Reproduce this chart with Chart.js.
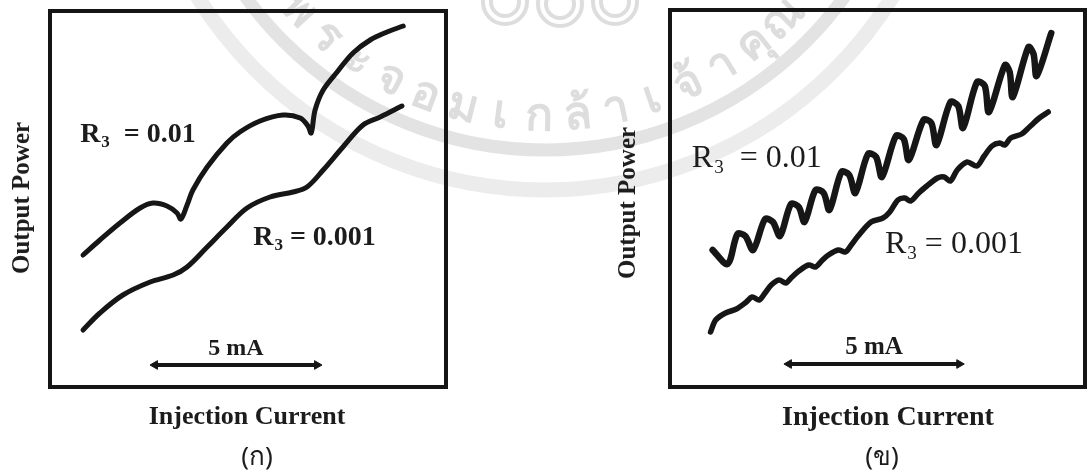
<!DOCTYPE html>
<html>
<head>
<meta charset="utf-8">
<script src="https://cdn.jsdelivr.net/npm/chart.js@4.4.1/dist/chart.umd.min.js"></script>
<style>
  body { margin:0; background:#fff; width:1091px; height:475px; position:relative; overflow:hidden; font-family:"Liberation Serif", serif; }
  canvas { position:absolute; top:0; }
  .t { position:absolute; font-weight:bold; color:#1c1c1c; white-space:nowrap; transform:translate(-50%,-50%); }
  .v { transform:translate(-50%,-50%) rotate(-90deg); }
  .cap { font-family:"Noto Sans", "DejaVu Sans", sans-serif; font-weight:normal; font-size:26px; }
</style>
</head>
<body>
<canvas id="wm" width="1091" height="475" style="left:0"></canvas>
<canvas id="left" width="460" height="400" style="left:0"></canvas>
<canvas id="right" width="491" height="400" style="left:600px"></canvas>

<div class="t v" style="left:21px; top:198px; font-size:25px">Output Power</div>
<div class="t" style="left:247px; top:416px; font-size:26px">Injection Current</div>
<div class="t cap" style="left:257px; top:455px">(ก)</div>

<div class="t v" style="left:627px; top:203px; font-size:25px">Output Power</div>
<div class="t" style="left:888px; top:416px; font-size:28px">Injection Current</div>
<div class="t cap" style="left:882px; top:455px">(ข)</div>

<script>
// injection current in mA, output power in arbitrary units
// (ก) smooth curves
const lowFbHighX = [1.02,1.54,2.16,2.78,3.18,3.61,3.92,4.04,4.23,4.41,4.85,5.46,5.86,6.48,7.19,7.72,7.96,8.06,8.18,8.43,8.86,9.35,9.88,10.40,10.90];
const lowFbHighY = [132,147,164,179,184,181,174,168,182,197,220,244,255,266,272,269,261,254,277,297,315,334,347,355,361];
const lowFbLowX = [1.02,1.54,2.25,3.09,3.80,4.23,4.85,5.46,6.08,6.79,7.50,7.93,8.43,9.04,9.66,10.19,10.86];
const lowFbLowY = [57,74,92,105,112,120,140,160,179,190,195,200,217,240,262,270,281];

// (ข) rippled curves
const ripHighX = [1.25,1.69,1.98,2.21,2.44,2.79,3.02,3.23,3.55,3.78,3.95,4.27,4.51,4.68,5.03,5.26,5.44,5.81,6.05,6.22,6.63,6.86,7.01,7.44,7.67,7.82,8.23,8.46,8.60,9.01,9.24,9.36,9.83,9.97,10.06,10.52,10.67,10.76,11.19];
const ripHighY = [137,123,153,151,137,168,165,151,183,180,165,197,194,177,215,212,194,233,230,210,251,248,227,267,264,242,285,281,259,305,301,275,322,315,290,340,333,311,354];
const ripLowX = [1.19,1.34,1.63,1.95,2.24,2.41,2.62,2.79,2.97,3.20,3.40,3.58,3.78,4.07,4.27,4.45,4.65,4.94,5.15,5.32,5.52,5.90,6.25,6.45,6.69,6.89,7.06,7.27,7.50,7.85,8.05,8.23,8.43,8.72,9.01,9.22,9.45,9.68,9.83,10.00,10.32,10.55,10.84,11.10];
const ripLowY = [55,67,74,78,85,90,87,94,102,107,104,110,116,122,120,126,132,137,135,142,151,165,169,175,187,189,186,193,200,209,210,206,217,225,221,231,241,244,242,249,253,260,269,275];

const r3Values = ['0.01', '0.001'];
const barLeft = [3.24, 8.24];   // 5 mA scale bar
const barRight = [3.49, 8.49];
const barLevel = [22, 23];

const pts = (xs, ys) => xs.map((x, i) => ({x: x, y: ys[i]}));

// watermark
(function () {
  const c = document.getElementById('wm').getContext('2d');
  const cx = 545, cy = -219;
  c.strokeStyle = 'rgba(170,170,170,0.33)';
  c.lineWidth = 13;
  c.beginPath(); c.arc(cx, cy, 369, 0, Math.PI * 2); c.stroke();
  c.lineWidth = 15;
  c.strokeStyle = 'rgba(180,180,180,0.25)';
  c.beginPath(); c.arc(cx, cy, 409, 0, Math.PI * 2); c.stroke();
  // logo rings
  c.lineWidth = 4;
  c.strokeStyle = 'rgba(170,170,170,0.4)';
  [[505, 2], [560, 4], [615, 2]].forEach(p => {
    c.beginPath(); c.arc(p[0], p[1], 22, 0, Math.PI * 2); c.stroke();
    c.beginPath(); c.arc(p[0], p[1], 14, 0, Math.PI * 2); c.stroke();
  });
  const chars = ['พ','ร','ะ','จ','อ','ม','เ','ก','ล้','า','เ','จ้','า','คุ','ณ'];
  c.fillStyle = 'rgba(165,165,165,0.38)';
  c.font = 'bold 46px "Noto Sans", sans-serif';
  c.textAlign = 'center';
  c.textBaseline = 'middle';
  const a0 = 137 * Math.PI / 180, a1 = 45 * Math.PI / 180;
  chars.forEach((ch, i) => {
    const a = a0 + (a1 - a0) * i / (chars.length - 1);
    c.save();
    c.translate(cx + 336 * Math.cos(a), cy + 336 * Math.sin(a));
    c.rotate(a - Math.PI / 2);
    c.fillText(ch, 0, 0);
    c.restore();
  });
})();

const decor = {
  id: 'decor',
  beforeDatasetsDraw(chart, args, o) {
    const {ctx, chartArea: a} = chart;
    ctx.save();
    ctx.strokeStyle = '#151515';
    ctx.lineWidth = 4;
    ctx.strokeRect(a.left, a.top, a.right - a.left, a.bottom - a.top);
    ctx.restore();
  },
  afterDatasetsDraw(chart, args, o) {
    const {ctx, scales: {x, y}} = chart;
    ctx.save();
    ctx.fillStyle = '#1c1c1c';
    ctx.textAlign = 'left';
    ctx.textBaseline = 'alphabetic';
    o.labels.forEach(l => {
      let px = x.getPixelForValue(l.x);
      const py = y.getPixelForValue(l.y);
      ctx.font = o.weight + ' ' + l.size + 'px "Liberation Serif"';
      ctx.fillText('R', px, py);
      px += ctx.measureText('R').width;
      ctx.font = o.weight + ' ' + Math.round(l.size * 0.6) + 'px "Liberation Serif"';
      ctx.fillText('3', px + 1, py + l.size * 0.18);
      px += ctx.measureText('3').width + 1;
      ctx.font = o.weight + ' ' + l.size + 'px "Liberation Serif"';
      ctx.fillText(l.text, px, py);
    });
    // scale bar label
    const bx = x.getPixelForValue((o.bar[0] + o.bar[1]) / 2);
    const by = y.getPixelForValue(o.barY);
    ctx.font = 'bold ' + o.barSize + 'px "Liberation Serif"';
    ctx.textAlign = 'center';
    ctx.fillText('5 mA', bx, by - 10);
    ctx.restore();
  }
};

function panel(id, xMax, yMax, pad, sets, bar, barY, deco) {
  const lineSet = (data, w, t) => ({
    data: data, borderColor: '#161616', borderWidth: w, tension: t,
    pointRadius: 0, fill: false, borderCapStyle: 'round', borderJoinStyle: 'round'
  });
  const ds = sets.map(s => lineSet(s[0], s[1], s[2]));
  ds.push({
    data: [{x: bar[0], y: barY}, {x: bar[1], y: barY}],
    borderColor: '#161616', backgroundColor: '#161616', borderWidth: 4,
    pointStyle: 'triangle', pointRadius: 5, pointRotation: [-90, 90],
    pointBorderWidth: 1
  });
  return new Chart(document.getElementById(id), {
    type: 'line',
    data: {datasets: ds},
    options: {
      responsive: false, animation: false, devicePixelRatio: 1,
      layout: {padding: pad},
      scales: {
        x: {type: 'linear', min: 0, max: xMax, display: false},
        y: {type: 'linear', min: 0, max: yMax, display: false}
      },
      plugins: {
        legend: {display: false}, tooltip: {enabled: false},
        decor: Object.assign({bar: bar, barY: barY}, deco)
      }
    },
    plugins: [decor]
  });
}

panel('left', 12.22, 376, {left: 50, right: 14, top: 11, bottom: 13},
  [[pts(lowFbHighX, lowFbHighY), 5, 0.35], [pts(lowFbLowX, lowFbLowY), 5, 0.35]],
  barLeft, barLevel[0],
  {weight: 'bold', barSize: 24, labels: [
    {x: 0.93, y: 245, size: 28, text: '  = ' + r3Values[0]},
    {x: 6.27, y: 142, size: 28, text: ' = ' + r3Values[1]}
  ]});

panel('right', 12.18, 377, {left: 70, right: 2, top: 10, bottom: 13},
  [[pts(ripHighX, ripHighY), 6.5, 0.3], [pts(ripLowX, ripLowY), 5.5, 0.3]],
  barRight, barLevel[1],
  {weight: 'normal', barSize: 25, labels: [
    {x: 0.64, y: 220, size: 32, text: '  = ' + r3Values[0]},
    {x: 6.31, y: 134, size: 32, text: ' = ' + r3Values[1]}
  ]});
</script>
</body>
</html>
